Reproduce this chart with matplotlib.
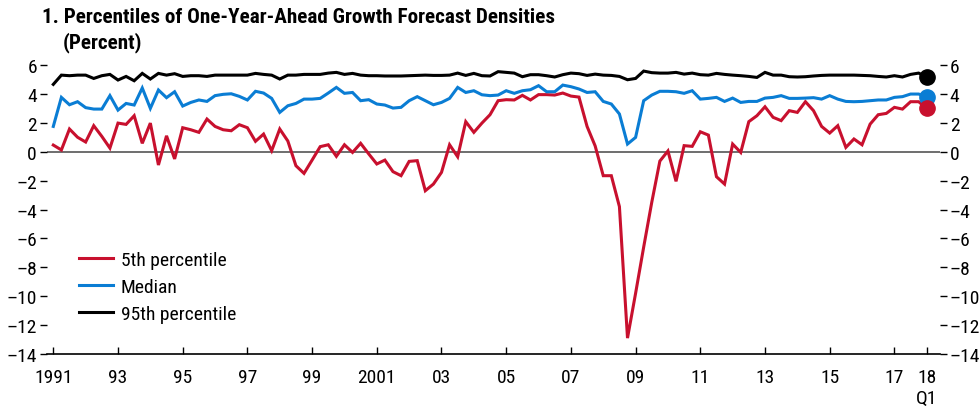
import matplotlib
matplotlib.use("Agg")
import matplotlib.pyplot as plt
import numpy as np
import pandas as pd
from matplotlib import font_manager

# ---------------- data ----------------
quarters = pd.period_range("1991Q1", "2018Q1", freq="Q")

p5 = [0.46, 0.12, 1.57, 1.0,
      0.67, 1.8, 1.06, 0.25,
      1.98, 1.89, 2.49, 0.58,
      1.98, -0.92, 1.1, -0.5,
      1.66, 1.52, 1.34, 2.26,
      1.75, 1.52, 1.45, 1.87,
      1.66, 0.72, 1.22, 0.07,
      1.57, 0.74, -0.97, -1.5,
      -0.58, 0.35, 0.48, -0.32,
      0.48, -0.05, 0.58, -0.15,
      -0.85, -0.58, -1.38, -1.66,
      -0.67, -0.62, -2.7, -2.24,
      -1.43, 0.48, -0.35, 2.08,
      1.34, 1.98, 2.56, 3.53,
      3.6, 3.58, 3.9, 3.58,
      3.95, 3.95, 3.92, 4.06,
      3.85, 3.78, 1.75, 0.4,
      -1.66, -1.66, -3.8, -12.9,
      -9.8, -6.6, -3.5, -0.65,
      0.05, -2.05, 0.42, 0.37,
      1.38, 1.15, -1.73, -2.24,
      0.53, -0.05, 2.08, 2.49,
      3.11, 2.38, 2.15, 2.84,
      2.72, 3.46, 2.84, 1.75,
      1.29, 1.8, 0.3, 0.88,
      0.48, 1.91, 2.56, 2.65,
      3.07, 2.95, 3.46, 3.46,
      3.0]

median = [1.75, 3.76, 3.25, 3.46,
          3.05, 2.95, 2.95, 3.88,
          2.88, 3.34, 3.23, 4.41,
          3.0, 4.27, 3.74, 4.15,
          3.16, 3.41, 3.58, 3.48,
          3.88, 3.97, 4.01, 3.83,
          3.58, 4.18, 4.06, 3.69,
          2.72, 3.18, 3.34, 3.64,
          3.64, 3.69, 4.06, 4.45,
          4.04, 4.1, 3.53, 3.6,
          3.3, 3.23, 3.02, 3.07,
          3.53, 3.81, 3.53, 3.25,
          3.41, 3.69, 4.45, 4.1,
          4.22, 3.94, 3.88, 3.92,
          4.22, 4.04, 4.22, 4.29,
          4.57, 4.15, 4.15, 4.61,
          4.5, 4.34, 4.1, 4.15,
          3.48, 3.3, 2.61, 0.53,
          0.99, 3.53, 3.92, 4.18,
          4.18, 4.15, 4.04, 4.22,
          3.64, 3.69, 3.76, 3.48,
          3.71, 3.41, 3.48, 3.48,
          3.71, 3.76, 3.88, 3.69,
          3.69, 3.71, 3.74, 3.64,
          3.88, 3.64, 3.48, 3.46,
          3.48, 3.53, 3.58, 3.58,
          3.76, 3.81, 3.99, 3.99,
          3.8]

p95 = [4.66, 5.3, 5.26, 5.3,
       5.3, 5.07, 5.26, 5.35,
       4.96, 5.21, 4.91, 5.42,
       5.03, 5.42, 5.3, 5.4,
       5.21, 5.26, 5.26, 5.21,
       5.3, 5.3, 5.3, 5.3,
       5.3, 5.42, 5.35, 5.3,
       5.03, 5.3, 5.3, 5.35,
       5.35, 5.35, 5.44, 5.49,
       5.35, 5.42, 5.3, 5.26,
       5.26, 5.24, 5.24, 5.24,
       5.26, 5.28, 5.3, 5.28,
       5.28, 5.3, 5.44, 5.28,
       5.42, 5.26, 5.24, 5.54,
       5.49, 5.44, 5.19, 5.33,
       5.33, 5.26, 5.17, 5.33,
       5.44, 5.4, 5.28, 5.37,
       5.3, 5.28, 5.21, 4.98,
       5.07, 5.58, 5.47, 5.44,
       5.44, 5.49, 5.37, 5.44,
       5.33, 5.3, 5.42, 5.35,
       5.3, 5.26, 5.21, 5.14,
       5.49, 5.3, 5.3, 5.19,
       5.17, 5.19, 5.24, 5.28,
       5.3, 5.3, 5.3, 5.3,
       5.28, 5.26, 5.21, 5.17,
       5.26, 5.17, 5.35, 5.44,
       5.15]

series_labels = ["5th percentile", "Median", "95th percentile"]
series_colors = ["#C8102E", "#0A7DD4", "#000000"]

tick_years = [1991, 1993, 1995, 1997, 1999, 2001, 2003, 2005, 2007, 2009,
              2011, 2013, 2015, 2017, 2018]
tick_labels = ["1991", "93", "95", "97", "99", "2001", "03", "05", "07", "09",
               "11", "13", "15", "17", "18\nQ1"]
y_ticks = [6, 4, 2, 0, -2, -4, -6, -8, -10, -12, -14]

title = "1. Percentiles of One-Year-Ahead Growth Forecast Densities"
subtitle = "(Percent)"

# ---------------- fonts ----------------
names = {f.name for f in font_manager.fontManager.ttflist}
fam = "Liberation Sans Narrow" if "Liberation Sans Narrow" in names else "Roboto Condensed" if "Roboto Condensed" in names else "Liberation Sans"
plt.rcParams["font.family"] = [fam, "DejaVu Sans"]
plt.rcParams["axes.unicode_minus"] = False

x = np.array([q.year + (q.quarter - 1) / 4 for q in quarters])

fig = plt.figure(figsize=(9.8, 4.14), dpi=100)
ax = fig.add_axes([46.7 / 980, 1 - 355 / 414, (940 - 46.7) / 980, 0.7155])

ax.axhline(0, color="#555555", lw=1.2, zorder=1)

for vals, lab, col in zip([p5, median, p95], series_labels, series_colors):
    ax.plot(x, vals, color=col, lw=2.2, label=lab, zorder=3, solid_joinstyle="miter")
# end-point dots
for vals, col in zip([p95, median, p5], [series_colors[2], series_colors[1], series_colors[0]]):
    ax.plot(x[-1], vals[-1], "o", color=col, ms=11, zorder=4)

ax.set_xlim(1990.796, 2018.41)
ax.set_ylim(-14, 6.5)

for s in ["top", "left", "right"]:
    ax.spines[s].set_visible(False)
ax.spines["bottom"].set_linewidth(1.2)
ax.spines["bottom"].set_position(("data", -14))

ax.set_xticks(tick_years)
ax.set_xticklabels(tick_labels, fontsize=14, linespacing=1.2)
ax.tick_params(axis="x", direction="in", length=5, width=1.0, pad=10)

ylabels = [str(v).replace("-", "\u2013") for v in y_ticks]
ax.set_yticks(y_ticks)
ax.set_yticklabels(ylabels, fontsize=14)
ax.tick_params(axis="y", direction="out", length=5, width=1.0, pad=2,
               left=True, right=True, labelleft=True, labelright=True)

leg = ax.legend(loc="upper left", bbox_to_anchor=(79 / 980, 1 - 252 / 414),
                bbox_transform=fig.transFigure, frameon=False, fontsize=14,
                handlelength=1.75, handletextpad=0.4, labelspacing=0.47,
                borderpad=0, borderaxespad=0)

fig.text(42 / 980, 1 - 8 / 414, title, fontsize=15.2, fontweight="bold", va="top", ha="left")
fig.text(63 / 980, 1 - 32 / 414, subtitle, fontsize=15.2, fontweight="bold", va="top", ha="left")

fig.savefig("out.png", dpi=100)
